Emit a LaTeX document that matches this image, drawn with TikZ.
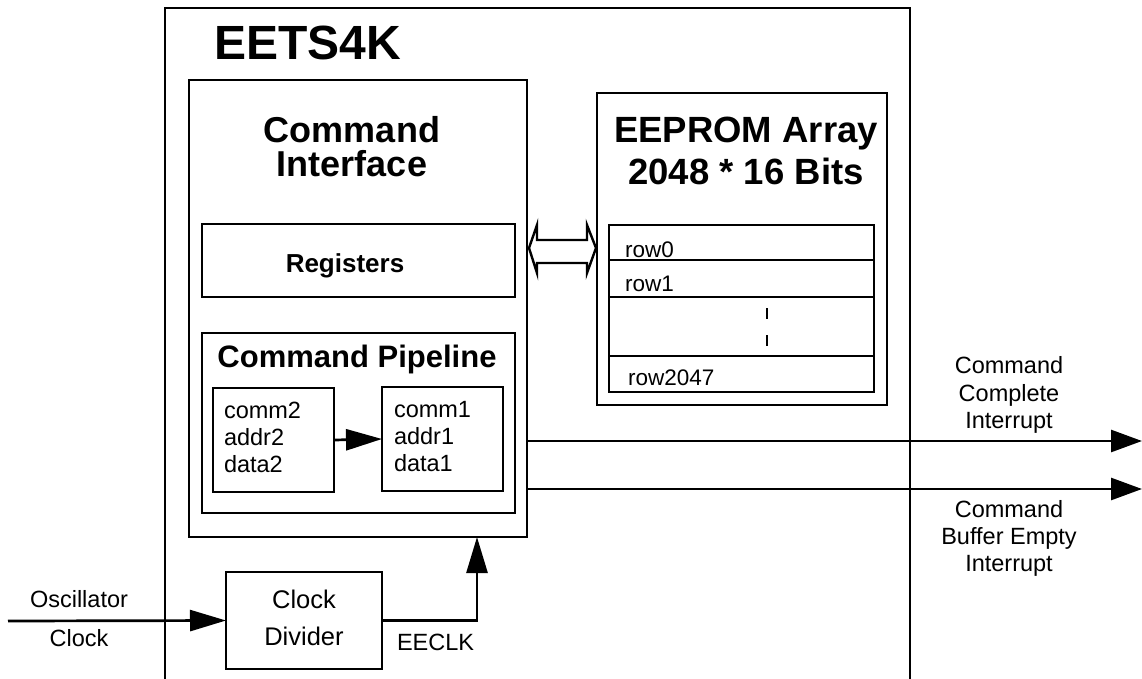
\documentclass[tikz,border=0pt]{standalone}
\usepackage{fontspec}
\setmainfont{Liberation Sans}
\usetikzlibrary{arrows.meta,calc}
\newcommand\myfs[1]{\fontsize{#1}{#1}\selectfont}
\begin{document}
\begin{tikzpicture}[x=1pt,y=-1pt,
  box/.style={draw, line width=2.7pt, inner sep=0pt, outer sep=0pt, anchor=north west},
  lbl/.style={inner sep=0pt, outer sep=0pt, anchor=base},
  lblw/.style={inner sep=0pt, outer sep=0pt, anchor=base west},
  arr/.style={line width=2.7pt, -{Triangle[length=36pt,width=21pt]}},
  arrout/.style={line width=2.7pt, -{Triangle[length=31pt,width=22pt]}},
  bigb/.style={font=\bfseries\myfs{36}},
  small/.style={font=\myfs{23.5}},
]
\useasboundingbox (0,0) rectangle (1142,679);
% outer chip outline (open at the bottom)
\draw[line width=2.7pt] (165,679) -- (165,8) -- (910,8) -- (910,679);
\node[lblw, font=\bfseries\myfs{48}] (title) at (214,60) {EETS4K};

% boxes
\node[box, minimum width=338pt, minimum height=457pt] (ci) at (189,80) {};
\node[box, minimum width=313pt, minimum height=73pt] (reg) at (202,224) {};
\node[box, minimum width=313pt, minimum height=180pt] (pipe) at (202,333) {};
\node[box, minimum width=121pt, minimum height=104pt] (c2) at (213,388) {};
\node[box, minimum width=121pt, minimum height=104pt] (c1) at (382,387) {};
\node[box, minimum width=156pt, minimum height=97pt] (clk) at (226,572) {};
\node[box, minimum width=290pt, minimum height=312pt] (ee) at (597,93) {};
\node[box, minimum width=265pt, minimum height=35pt] (r0) at (609,225) {};
\node[box, minimum width=265pt, minimum height=37pt] (r1) at (609,260) {};
\node[box, minimum width=265pt, minimum height=59pt] (rg) at (609,297) {};
\node[box, minimum width=265pt, minimum height=36pt] (r2047) at (609,356) {};

% texts
\node[lbl, bigb] (ciA) at (352,143) {Command};
\node[lbl, bigb] (ciB) at (352,177) {Interface};
\node[lbl, font=\bfseries\myfs{36.5}] (eeA) at (746,143) {EEPROM Array};
\node[lbl, font=\bfseries\myfs{36.5}] (eeB) at (746,185) {2048 * 16 Bits};
\node[lbl, font=\bfseries\myfs{26}] (regT) at (345,272) {Registers};
\node[lbl, font=\bfseries\myfs{31}] (pipeT) at (357,367) {Command Pipeline};
\node[lblw, small] (c2a) at (224,418) {comm2};
\node[lblw, small] (c2b) at (224,445) {addr2};
\node[lblw, small] (c2c) at (224,472) {data2};
\node[lblw, small] (c1a) at (394,417) {comm1};
\node[lblw, small] (c1b) at (394,444) {addr1};
\node[lblw, small] (c1c) at (394,471) {data1};
\node[lbl, font=\myfs{25.5}] (clkA) at (304,608) {Clock};
\node[lbl, font=\myfs{25.5}] (clkB) at (304,645) {Divider};
\node[lblw, small] (eeclk) at (397,650) {EECLK};
\node[lbl, small] (oscA) at (79,607) {Oscillator};
\node[lbl, small] (oscB) at (79,646) {Clock};
\node[lbl, small] (ccA) at (1009,373) {Command};
\node[lbl, small] (ccB) at (1009,401) {Complete};
\node[lbl, small] (ccC) at (1009,428) {Interrupt};
\node[lbl, small] (cbA) at (1009,517) {Command};
\node[lbl, small] (cbB) at (1009,544) {Buffer Empty};
\node[lbl, small] (cbC) at (1009,571) {Interrupt};
\node[lblw, font=\myfs{22.5}] (row0) at (625,257) {row0};
\node[lblw, font=\myfs{22.5}] (row1) at (625,291) {row1};
\node[lblw, font=\myfs{22.5}] (row2047) at (628,385) {row2047};

% ellipsis dashes
\draw[line width=2.8pt] (767,308) -- (767,319);
\draw[line width=2.8pt] (767,335) -- (767,346);

% hollow double arrow between command interface and EEPROM
\draw[line width=2.4pt, line join=miter] (529,248) -- (537,225) -- (537,240) -- (587,240)
  -- (587,225) -- (596,248) -- (587,273) -- (587,263) -- (537,263) -- (537,273) -- cycle;

% connectors
\coordinate (osc) at (8,621);
\draw[arr] (osc) -- (clk.west);
\draw[arr] (c2.east) -- (c1.west);
\draw[arr] (clk.east) -| ([xshift=119pt]ci.south);
\coordinate (o1) at (1142,441);
\coordinate (o2) at (1142,489);
\draw[arrout] (ci.east |- o1) -- (o1);
\draw[arrout] (ci.east |- o2) -- (o2);
\end{tikzpicture}
\end{document}
